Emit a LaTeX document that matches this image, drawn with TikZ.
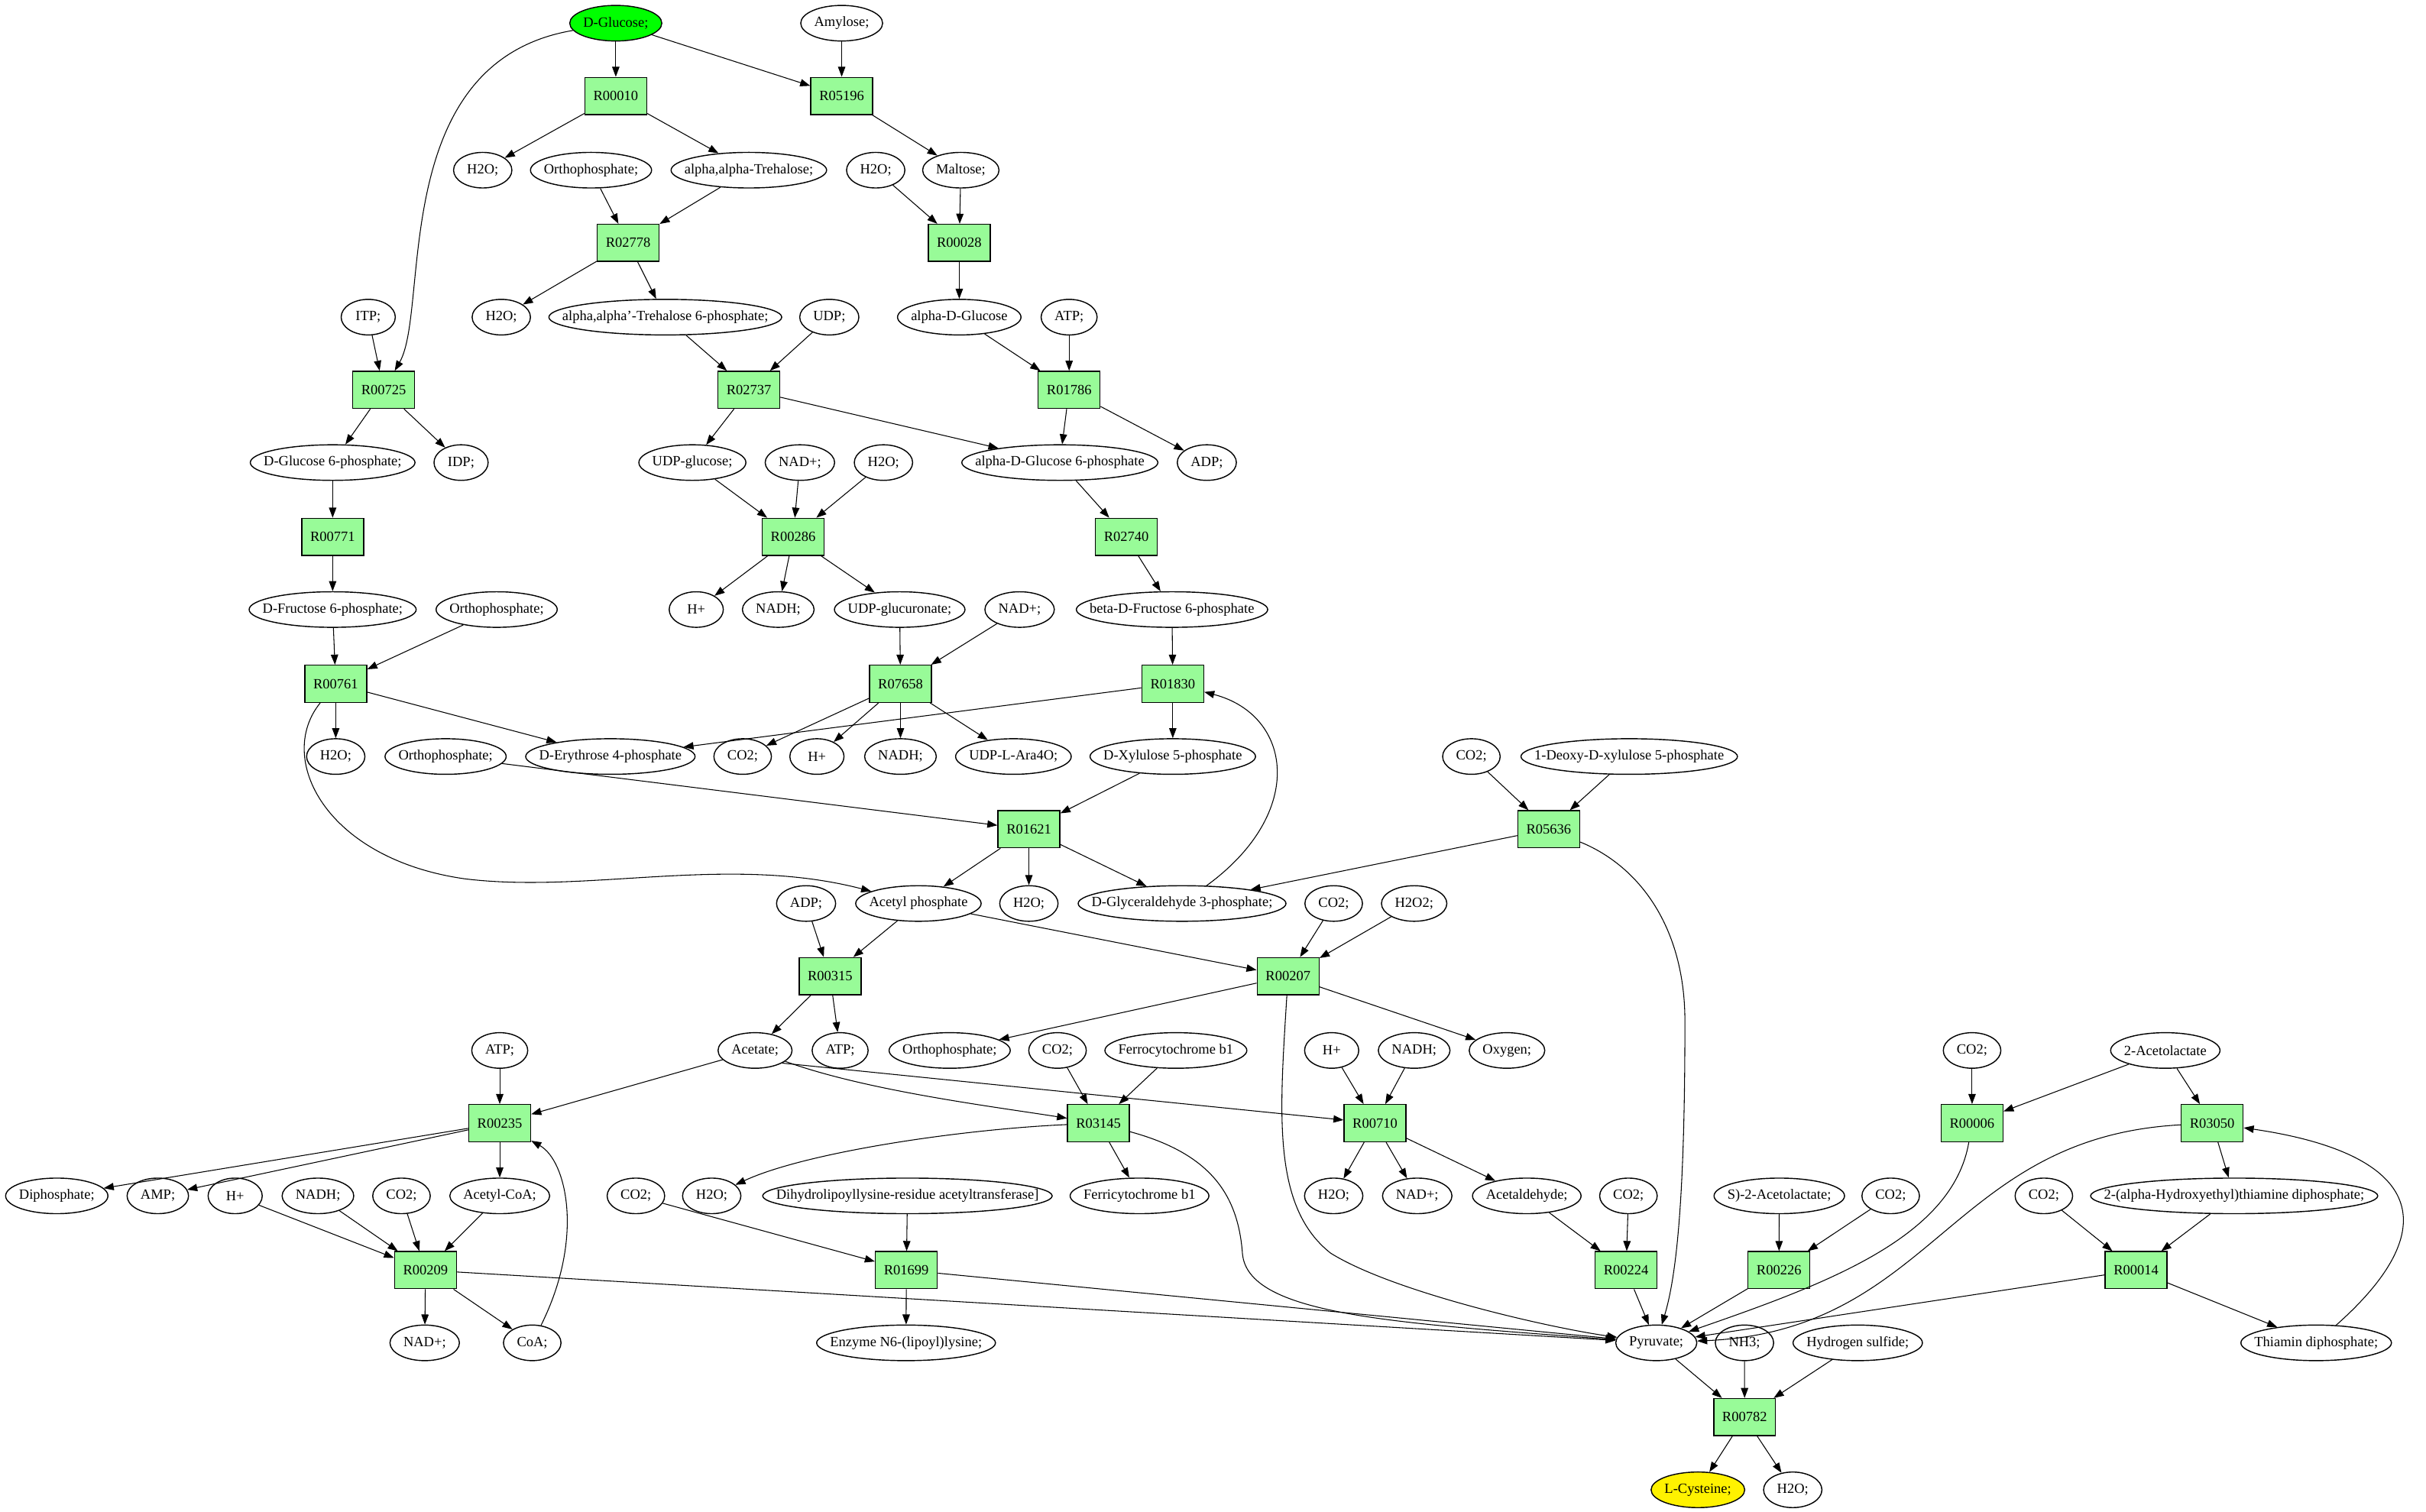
\documentclass[tikz,border=0pt]{standalone}
\usepackage{fontspec}
\setmainfont{Liberation Serif}
\usetikzlibrary{shapes.geometric,arrows.meta}
\definecolor{palegreen}{HTML}{98FB98}
\newdimen\metw
\newcommand\metfont{\normalfont\fontsize{5.2}{6.2}\selectfont}
\begin{document}
\begin{tikzpicture}[x=0.02cm, y=-0.02cm, every node/.style={font=\metfont},
  met/.style={draw, ellipse, line width=0.4pt, inner sep=0pt, minimum height=0.46cm},
  rxn/.style={draw, rectangle, fill=palegreen, line width=0.4pt, inner sep=0pt,
    minimum width=0.8cm, minimum height=0.48cm},
  arr/.style={-{Triangle[length=3.7pt,width=2.7pt]}, line width=0.3pt}]
  \useasboundingbox (0,0) rectangle (1568,977);
  \foreach \rx/\x/\y in {R00010/398/62, R05196/544/62, R02778/406/157, R00028/620/157,
      R00725/248/252, R02737/484/252, R01786/691/252, R00771/215/347, R00286/512.6/347,
      R02740/728/347, R00761/217/442, R07658/582/442, R01830/758/442, R01621/665/536,
      R05636/1001/536, R00315/536.5/631, R00207/832.5/631, R00235/323/726, R03145/710/726,
      R00710/888.7/726, R00006/1274.6/726, R03050/1429.8/726, R00209/275/821,
      R01699/585.8/821, R00224/1051/821, R00226/1149.8/821, R00014/1380.6/821,
      R00782/1127.6/916} {
    \node[rxn] (\rx) at (\x,\y) {\rx};
  }
  \foreach \mn/\x/\y/\col/\lab in {glc/398/15/green/{D-Glucose;}, amy/544/15/white/{Amylose;},
      h2oa/312/110/white/{H2O;}, pia/382/110/white/{Orthophosphate;},
      tre/484/110/white/{alpha,alpha-Trehalose;}, h2ob/566/110/white/{H2O;},
      mal/621/110/white/{Maltose;}, itp/238/205/white/{ITP;}, h2oc/324/205/white/{H2O;},
      tre6p/430/205/white/{alpha,alpha'-Trehalose 6-phosphate;}, udp/536/205/white/{UDP;},
      aglc/620/205/white/{alpha-D-Glucose}, atpa/691/205/white/{ATP;},
      g6p/215/299/white/{D-Glucose 6-phosphate;}, idp/298/299/white/{IDP;},
      udpg/447.5/299/white/{UDP-glucose;}, nada/517/299/white/{NAD+;},
      h2od/571/299/white/{H2O;}, ag6p/685/299/white/{alpha-D-Glucose 6-phosphate},
      adpa/780/299/white/{ADP;}, f6p/215/394/white/{D-Fructose 6-phosphate;},
      pib/321/394/white/{Orthophosphate;}, hpa/450/394/white/{H+},
      nadha/503/394/white/{NADH;}, udpga/581.5/394/white/{UDP-glucuronate;},
      nadb/659/394/white/{NAD+;}, bf6p/757.5/394/white/{beta-D-Fructose 6-phosphate},
      h2oe/217/489/white/{H2O;}, pic/288/489/white/{Orthophosphate;},
      e4p/394.5/489/white/{D-Erythrose 4-phosphate}, co2a/480/489/white/{CO2;},
      hpb/528/489/white/{H+}, nadhb/582/489/white/{NADH;}, ara/655/489/white/{UDP-L-Ara4O;},
      x5p/758/489/white/{D-Xylulose 5-phosphate}, co2b/951/489/white/{CO2;},
      dxp/1053/489/white/{1-Deoxy-D-xylulose 5-phosphate}, adpb/521/584/white/{ADP;},
      acp/593.6/584/white/{Acetyl phosphate}, h2of/665/584/white/{H2O;},
      gap/764/584/white/{D-Glyceraldehyde 3-phosphate;}, co2c/862/584/white/{CO2;},
      h2o2/914/584/white/{H2O2;}, atpb/323/679/white/{ATP;}, ac/488/679/white/{Acetate;},
      atpc/543/679/white/{ATP;}, pid/613.8/679/white/{Orthophosphate;},
      co2d/683.5/679/white/{CO2;}, fcb/760/679/white/{Ferrocytochrome b1},
      hpc/860.7/679/white/{H+}, nadhc/914/679/white/{NADH;}, oxy/974/679/white/{Oxygen;},
      co2e/1274.6/679/white/{CO2;}, alac/1399.5/679/white/{2-Acetolactate},
      ppi/36.7/773/white/{Diphosphate;}, amp/102/773/white/{AMP;}, hpd/152/773/white/{H+},
      nadhd/205.5/773/white/{NADH;}, co2f/259.5/773/white/{CO2;},
      accoa/323/773/white/{Acetyl-CoA;}, co2g/411/773/white/{CO2;}, h2og/460/773/white/{H2O;},
      dlat/586.5/773/white/{Dihydrolipoyllysine-residue acetyltransferase]},
      fib/736.5/773/white/{Ferricytochrome b1}, h2oh/862/773/white/{H2O;},
      nadc/916/773/white/{NAD+;}, acald/986.8/773/white/{Acetaldehyde;},
      co2h/1052.5/773/white/{CO2;}, salac/1150/773/white/{S)-2-Acetolactate;},
      co2i/1222/773/white/{CO2;}, co2j/1321/773/white/{CO2;},
      hetpp/1444/773/white/{2-(alpha-Hydroxyethyl)thiamine diphosphate;},
      nadd/274.5/868/white/{NAD+;}, coa/344/868/white/{CoA;},
      lip/585.6/868/white/{Enzyme N6-(lipoyl)lysine;}, pyr/1070.5/868/white/{Pyruvate;},
      nh3/1127.5/868/white/{NH3;}, h2s/1200.7/868/white/{Hydrogen sulfide;},
      thdp/1497/868/white/{Thiamin diphosphate;}, cys/1097.4/963/yellow/{L-Cysteine;},
      h2oi/1158.7/963/white/{H2O;}} {
    \setbox0=\hbox{\pgfinterruptpicture\metfont\lab\endpgfinterruptpicture}
    \metw=\wd0
    \advance\metw by 9.9pt
    \ifdim\metw<0.7cm \metw=0.7cm\fi
    \edef\mw{\the\metw}
    \node[met, fill=\col, minimum width=\mw] (\mn) at (\x,\y) {\makebox[0pt]{\lab}};
  }
  \foreach \src/\dst in {glc/R00010, glc/R05196, amy/R05196, R00010/h2oa, R00010/tre,
      R05196/mal, pia/R02778, tre/R02778, h2ob/R00028, mal/R00028, R02778/h2oc,
      R02778/tre6p, R00028/aglc, itp/R00725, tre6p/R02737, udp/R02737, aglc/R01786,
      atpa/R01786, R00725/g6p, R00725/idp, R02737/udpg, R02737/ag6p, R01786/ag6p,
      R01786/adpa, g6p/R00771, udpg/R00286, nada/R00286, h2od/R00286, ag6p/R02740,
      R00771/f6p, R00286/hpa, R00286/nadha, R00286/udpga, R02740/bf6p, f6p/R00761,
      pib/R00761, udpga/R07658, nadb/R07658, bf6p/R01830, R00761/h2oe, R00761/e4p,
      R07658/co2a, R07658/hpb, R07658/nadhb, R07658/ara, R01830/e4p, R01830/x5p,
      pic/R01621, x5p/R01621, co2b/R05636, dxp/R05636, R01621/acp, R01621/h2of,
      R01621/gap, R05636/gap, adpb/R00315, acp/R00315, acp/R00207, co2c/R00207,
      h2o2/R00207, R00315/ac, R00315/atpc, R00207/pid, R00207/oxy, atpb/R00235,
      ac/R00235, co2d/R03145, fcb/R03145, hpc/R00710, nadhc/R00710, co2e/R00006,
      alac/R00006, alac/R03050, R00235/ppi, R00235/amp, R00235/accoa, R03145/fib,
      R00710/h2oh, R00710/nadc, R00710/acald, R03050/hetpp, hpd/R00209, nadhd/R00209,
      co2f/R00209, accoa/R00209, co2g/R01699, dlat/R01699, acald/R00224, co2h/R00224,
      salac/R00226, co2i/R00226, co2j/R00014, hetpp/R00014, R00209/nadd, R00209/coa,
      R00209/pyr, R01699/lip, R01699/pyr, R00224/pyr, R00226/pyr, R00014/pyr,
      R00014/thdp, pyr/R00782, nh3/R00782, h2s/R00782, R00782/cys, R00782/h2oi} {
    \draw[arr] (\src) -- (\dst);
  }
  \draw[arr] (ac.-25) -- (R00710);
  \draw[arr] (ac) .. controls (560,705) and (640,715) .. (R03145);
  \draw[arr] (glc) .. controls (250,40) and (278,200) .. (R00725);
  \draw[arr] (R00761) .. controls (178,490) and (210,555) .. (300,568)
    .. controls (380,578) and (470,552) .. (acp);
  \draw[arr] (gap) .. controls (845,525) and (835,462) .. (R01830);
  \draw[arr] (coa) .. controls (378,800) and (366,750) .. (R00235);
  \draw[arr] (thdp) .. controls (1585,790) and (1560,745) .. (R03050);
  \draw[arr] (R05636) .. controls (1060,560) and (1089,600) .. (1089,660)
    .. controls (1089,760) and (1085,820) .. (pyr);
  \draw[arr] (R00006) .. controls (1262,800) and (1180,830) .. (pyr);
  \draw[arr] (R03050) .. controls (1260,735) and (1250,860) .. (pyr);
  \draw[arr] (R03145) .. controls (780,745) and (800,770) .. (803,810)
    .. controls (806,850) and (900,855) .. (pyr);
  \draw[arr] (R00207) .. controls (827,720) and (822,780) .. (860,810)
    .. controls (900,835) and (1000,858) .. (pyr);
  \draw[arr] (R03145) .. controls (620,730) and (520,745) .. (h2og);
\end{tikzpicture}
\end{document}
